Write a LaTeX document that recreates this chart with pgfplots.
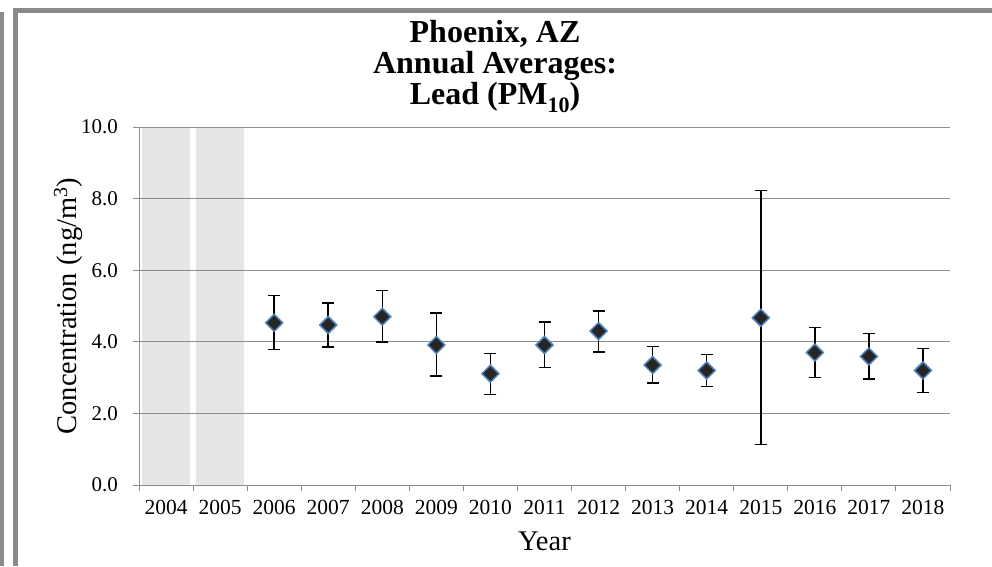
\documentclass[border=0pt]{standalone}
\usepackage{pgfplots}
\usepackage{pgfplotstable}
\pgfplotsset{compat=1.18}
\usepackage{fontspec}
\setmainfont{Liberation Serif}
\definecolor{gridgray}{HTML}{8C8C8C}
\definecolor{bargray}{HTML}{E6E6E6}
\definecolor{framegray}{HTML}{8A8A8A}
\definecolor{mkblue}{HTML}{4F81BD}
\definecolor{mkfill}{HTML}{262626}

\pgfplotstableread{
x y ep em
2 4.53 0.77 0.75
3 4.47 0.62 0.61
4 4.70 0.73 0.71
5 3.91 0.89 0.86
6 3.11 0.57 0.58
7 3.91 0.64 0.63
8 4.30 0.56 0.58
9 3.35 0.52 0.50
10 3.20 0.45 0.45
11 4.67 3.55 3.54
12 3.70 0.70 0.70
13 3.59 0.64 0.63
14 3.20 0.61 0.61
}\leaddata

\begin{document}
\begin{tikzpicture}
\fill[framegray] (0pt,0pt) rectangle (4pt,554pt);
\fill[framegray] (13pt,0pt) rectangle (18pt,558pt);
\fill[framegray] (13pt,553pt) rectangle (992pt,558pt);
\begin{axis}[
  set layers,
  at={(139pt,81pt)}, anchor=south west,
  width=811pt, height=358pt, scale only axis,
  xmin=-0.5, xmax=14.5, ymin=0, ymax=10,
  axis x line*=bottom, axis y line*=left,
  axis line style={gridgray, line width=1pt},
  tick align=outside,
  xtick={0,1,2,3,4,5,6,7,8,9,10,11,12,13,14},
  xticklabels={2004,2005,2006,2007,2008,2009,2010,2011,2012,2013,2014,2015,2016,2017,2018},
  minor xtick={-0.5,0.5,1.5,2.5,3.5,4.5,5.5,6.5,7.5,8.5,9.5,10.5,11.5,12.5,13.5,14.5},
  major x tick style={draw=none},
  minor x tick style={draw=gridgray, line width=1pt},
  minor tick length=6pt,
  major tick length=6pt,
  ytick={0,2,4,6,8,10},
  major y tick style={draw=gridgray, line width=1pt},
  ymajorgrids,
  major grid style={gridgray, line width=1pt},
  /pgf/number format/assume math mode=true,
  yticklabel style={/pgf/number format/fixed, /pgf/number format/fixed zerofill, /pgf/number format/precision=1,
    anchor=east, inner sep=0pt, xshift=-15pt, font=\fontsize{21}{21}\selectfont},
  xticklabel style={anchor=base, inner sep=0pt, yshift=-23pt, font=\fontsize{21.5}{21.5}\selectfont},
  ylabel={Concentration (ng/m\textsuperscript{3})},
  ylabel style={at={(axis description cs:-0.0875,0.5)}, anchor=center, font=\fontsize{28.5}{28.5}\selectfont},
  xlabel={Year},
  xlabel style={at={(axis description cs:0.5,0)}, anchor=base, yshift=-65pt, font=\fontsize{28.5}{28.5}\selectfont},
]
\addplot[ybar, bar width=48pt, fill=bargray, draw=none, on layer=axis background] coordinates {(0,10) (1,10)};
\addplot[only marks, mark=none, forget plot,
  error bars/.cd, y dir=both, y explicit,
  error bar style={black, line width=1.5pt},
  error mark options={black, line width=1.5pt, mark size=6pt, rotate=90}]
  table[x=x, y=y, y error plus=ep, y error minus=em] {\leaddata};
\addplot[only marks, mark=square*, mark size=6pt,
  mark options={rotate=45, fill=mkfill, draw=mkblue, line width=1.5pt}]
  table[x=x, y=y] {\leaddata};
\end{axis}
\node[anchor=base, font=\bfseries\fontsize{32}{32}\selectfont] at (495pt,523pt) {Phoenix, AZ};
\node[anchor=base, font=\bfseries\fontsize{32}{32}\selectfont] at (495pt,492pt) {Annual Averages:};
\node[anchor=base, font=\bfseries\fontsize{32}{32}\selectfont] at (495pt,461pt) {Lead (PM\raisebox{-0.22em}{\fontsize{22}{22}\selectfont 10})};
\pgfresetboundingbox
\path[use as bounding box] (0pt,0pt) rectangle (992pt,566pt);
\end{tikzpicture}
\end{document}
